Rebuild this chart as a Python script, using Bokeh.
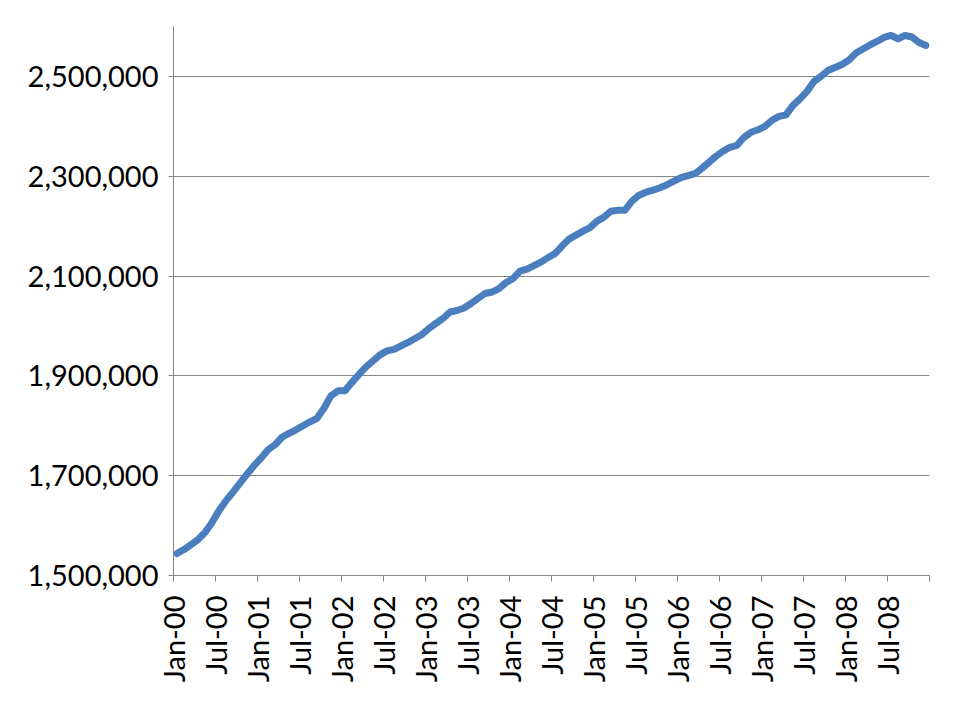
from bokeh.plotting import figure
from bokeh.models import FixedTicker, NumeralTickFormatter, Range1d, ColumnDataSource
from bokeh.embed import file_html
from bokeh.resources import INLINE
import math

# Monthly values (thousands), Jan-2000 .. Dec-2008
values = [
    1544, 1552, 1562, 1572, 1586, 1606, 1630, 1650, 1667, 1685, 1703, 1720,
    1735, 1752, 1762, 1777, 1785, 1792, 1800, 1808, 1815, 1835, 1860, 1870,
    1870, 1887, 1903, 1918, 1930, 1942, 1950, 1953, 1960, 1967, 1975, 1983,
    1995, 2005, 2015, 2028, 2031, 2036, 2045, 2055, 2065, 2068, 2075, 2087,
    2095, 2110, 2114, 2121, 2128, 2137, 2145, 2160, 2174, 2182, 2190, 2197,
    2210, 2218, 2230, 2232, 2232, 2250, 2262, 2268, 2272, 2277, 2283, 2290,
    2297, 2301, 2305, 2316, 2328, 2340, 2350, 2358, 2362, 2378, 2388, 2393,
    2400, 2412, 2420, 2423, 2442, 2455, 2470, 2490, 2500, 2512, 2518, 2524,
    2533, 2547, 2555, 2563, 2570, 2578, 2582, 2575, 2582, 2579, 2568, 2562,
]
values = [v * 1000 for v in values]

tick_labels = ["Jan-00", "Jul-00", "Jan-01", "Jul-01", "Jan-02", "Jul-02",
               "Jan-03", "Jul-03", "Jan-04", "Jul-04", "Jan-05", "Jul-05",
               "Jan-06", "Jul-06", "Jan-07", "Jul-07", "Jan-08", "Jul-08", ""]
y_ticks = [1500000, 1700000, 1900000, 2100000, 2300000, 2500000]

months = [i + 0.5 for i in range(len(values))]
src = ColumnDataSource(dict(x=months, y=values))

p = figure(width=952, height=712, output_backend="svg", toolbar_location=None,
           x_range=Range1d(0, 108), y_range=Range1d(1500000, 2600000),
           min_border_left=173, min_border_right=23, min_border_top=26,
           min_border_bottom=137)
p.outline_line_color = None
p.background_fill_color = "white"
p.border_fill_color = "white"

p.line("x", "y", source=src, line_color="#4A7EBF", line_width=7,
       line_join="round", line_cap="round")

xt = list(range(0, 109, 6))
p.xaxis.ticker = FixedTicker(ticks=xt)
p.xaxis.major_label_overrides = {t: lab for t, lab in zip(xt, tick_labels)}
p.xaxis.major_label_orientation = math.pi / 2
p.xaxis.minor_tick_line_color = None
p.xaxis.major_tick_in = 0
p.xaxis.major_tick_out = 6
p.xaxis.axis_line_color = "#868686"
p.xaxis.major_tick_line_color = "#868686"
p.xaxis.major_label_text_font = "Lato"
p.xaxis.major_label_text_font_size = "29px"
p.xaxis.major_label_text_color = "black"
p.xaxis.major_label_standoff = 14

p.yaxis.ticker = FixedTicker(ticks=y_ticks)
p.yaxis.formatter = NumeralTickFormatter(format="0,0")
p.yaxis.minor_tick_line_color = None
p.yaxis.major_tick_in = 0
p.yaxis.major_tick_out = 5
p.yaxis.axis_line_color = "#868686"
p.yaxis.major_tick_line_color = "#868686"
p.yaxis.major_label_text_font = "Lato"
p.yaxis.major_label_text_font_size = "29px"
p.yaxis.major_label_text_color = "black"
p.yaxis.major_label_standoff = 10

p.xgrid.grid_line_color = None
p.ygrid.grid_line_color = "#868686"
p.ygrid.grid_line_width = 1

open("out.html", "w").write(file_html(p, INLINE))
